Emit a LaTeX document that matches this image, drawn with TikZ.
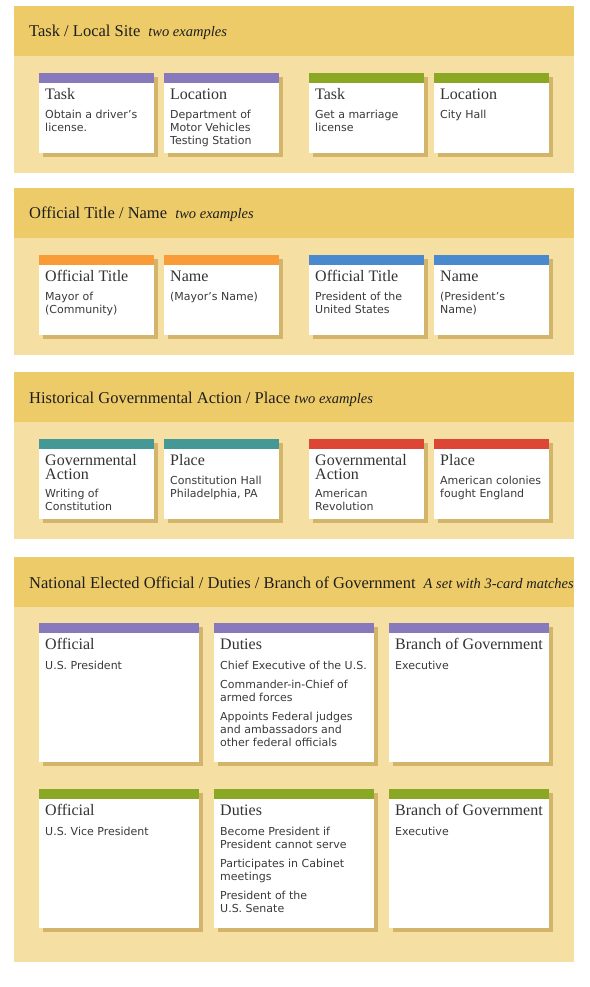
\documentclass[tikz,border=0pt]{standalone}
\usepackage{fontspec}
\setmainfont{Liberation Serif}
\newfontfamily\verd{DejaVu Sans}
\definecolor{hdrc}{HTML}{EDCB68}
\definecolor{bodyc}{HTML}{F5DFA3}
\definecolor{shadowc}{HTML}{D3B46B}
\definecolor{titlec}{HTML}{1E1E1E}
\definecolor{ctitlec}{HTML}{333333}
\definecolor{ctextc}{HTML}{3A3A3A}
\definecolor{cpurple}{HTML}{8878BC}
\definecolor{cgreen}{HTML}{8AA823}
\definecolor{corange}{HTML}{F99B36}
\definecolor{cblue}{HTML}{4A89CE}
\definecolor{cteal}{HTML}{449896}
\definecolor{cred}{HTML}{DD4534}
\tikzset{
  cardbox/.style={fill=white, draw=none, inner sep=0pt, outer sep=0pt, anchor=north west},
  cardtitle/.style={anchor=base west, inner sep=0pt, text=ctitlec, font=\fontsize{16}{13}\selectfont},
  cardbody/.style={anchor=base west, inner sep=0pt, text=ctextc, font=\verd\fontsize{11}{13}\selectfont},
  hdrtitle/.style={anchor=base west, inner sep=0pt, text=titlec, font=\fontsize{16.5}{18}\selectfont},
}
% lines stacked with the first baseline as the node's base
\newcommand\stack[1]{\begin{tabular}[t]{@{}l@{}}#1\end{tabular}}
% #1 name, #2 x, #3 y, #4 w, #5 h, #6 colour, #7 title, #8 body, #9 body baseline offset
\newcommand\mkcard[9]{%
  \fill[shadowc] (#2+4,#3+4) rectangle ++(#4,#5);
  \node[cardbox, minimum width=#4, minimum height=#5] (#1) at (#2,#3) {};
  \fill[#6] (#1.north west) rectangle ([shift={(0,10)}]#1.north east);
  \node[cardtitle] (#1-t) at ([shift={(6,26.5)}]#1.north west) {\stack{#7}};
  \node[cardbody] (#1-b) at ([shift={(6,#9)}]#1.north west) {\stack{#8}};
}
\newcommand\mkband[2]{% #1 top, #2 bottom
  \fill[hdrc] (14,#1) rectangle (574,#1+50);
  \fill[bodyc] (14,#1+50) rectangle (574,#2);
}
\newcommand\ex[1]{\hspace{4pt} {\itshape\fontsize{14.5}{16}\selectfont #1}}
\begin{document}
\begin{tikzpicture}[x=1pt,y=-1pt]
\useasboundingbox (0,0) rectangle (589,987);
\fill[white] (0,0) rectangle (589,987);

% ---------- Section 1
\mkband{6}{173}
\node[hdrtitle] (h1) at (29,37) {Task / Local Site\ex{two examples}};
\mkcard{a1}{39}{73}{115}{80}{cpurple}{Task}{Obtain a driver’s\\license.}{45.5}
\mkcard{a2}{164}{73}{115}{80}{cpurple}{Location}{Department of\\Motor Vehicles\\Testing Station}{45.5}
\mkcard{a3}{309}{73}{115}{80}{cgreen}{Task}{Get a marriage\\license}{45.5}
\mkcard{a4}{434}{73}{115}{80}{cgreen}{Location}{City Hall}{45.5}

% ---------- Section 2
\mkband{188}{355}
\node[hdrtitle] (h2) at (29,218.5) {Official Title / Name\ex{two examples}};
\mkcard{b1}{39}{255}{115}{80}{corange}{Official Title}{Mayor of\\(Community)}{45.5}
\mkcard{b2}{164}{255}{115}{80}{corange}{Name}{(Mayor’s Name)}{45.5}
\mkcard{b3}{309}{255}{115}{80}{cblue}{Official Title}{President of the\\United States}{45.5}
\mkcard{b4}{434}{255}{115}{80}{cblue}{Name}{(President’s\\Name)}{45.5}

% ---------- Section 3
\mkband{372}{539}
\node[hdrtitle] (h3) at (29,403) {Historical Governmental Action / Place {\itshape\fontsize{14.5}{16}\selectfont two examples}};
\mkcard{c1}{39}{439}{115}{80}{cteal}{Governmental\\Action}{Writing of\\Constitution}{58.5}
\mkcard{c2}{164}{439}{115}{80}{cteal}{Place}{Constitution Hall\\Philadelphia, PA}{45.5}
\mkcard{c3}{309}{439}{115}{80}{cred}{Governmental\\Action}{American\\Revolution}{58.5}
\mkcard{c4}{434}{439}{115}{80}{cred}{Place}{American colonies\\fought England}{45.5}

% ---------- Section 4
\mkband{557}{962}
\node[hdrtitle] (h4) at (29,588) {National Elected Official / Duties / Branch of Government\ex{A set with 3-card matches}};
\mkcard{d1}{39}{623}{160}{139}{cpurple}{Official}{U.S. President}{46}
\mkcard{d2}{214}{623}{160}{139}{cpurple}{Duties}{Chief Executive of the U.S.\\[6pt]Commander-in-Chief of\\armed forces\\[6pt]Appoints Federal judges\\and ambassadors and\\other federal officials}{46}
\mkcard{d3}{389}{623}{160}{139}{cpurple}{Branch of Government}{Executive}{46}
\mkcard{e1}{39}{789}{160}{139}{cgreen}{Official}{U.S. Vice President}{46}
\mkcard{e2}{214}{789}{160}{139}{cgreen}{Duties}{Become President if\\President cannot serve\\[6pt]Participates in Cabinet\\meetings\\[6pt]President of the\\U.S. Senate}{46}
\mkcard{e3}{389}{789}{160}{139}{cgreen}{Branch of Government}{Executive}{46}
\end{tikzpicture}
\end{document}
